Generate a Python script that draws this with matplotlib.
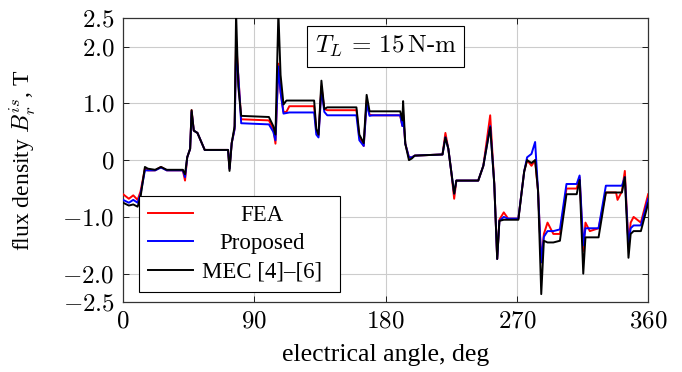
import numpy as np
import matplotlib
matplotlib.use('Agg')
import matplotlib.pyplot as plt
from matplotlib.transforms import IdentityTransform

plt.rcParams['font.family'] = ['Liberation Serif', 'DejaVu Serif']
plt.rcParams['mathtext.fontset'] = 'cm'
plt.rcParams['axes.unicode_minus'] = False

# electrical angle (deg) and radial flux density (T)
angle = [0, 4, 7, 10, 12, 15, 17, 22, 26, 30, 41, 42.5, 44, 46, 47, 48.5, 51, 56,
         72, 73, 74.5, 76.5, 77.5, 79, 81, 100, 103, 104.5, 106.5, 108, 110, 112, 114,
         131, 132.5, 134, 136, 138, 140, 160, 162, 165, 167, 169, 171, 190, 191.5,
         192, 193.5, 196, 198, 200, 219, 221, 223, 225, 227, 228.5, 243.5, 247, 251.7,
         254.5, 256.5, 258, 261, 264, 271, 275, 277, 280, 282.5, 284.5, 286.7, 288.5,
         291, 295, 299.5, 304, 311, 313, 315.5, 317, 320, 326, 331, 338, 339, 342, 344,
         346.5, 348, 350, 355, 360]

fea = [-0.60, -0.68, -0.62, -0.70, -0.55, -0.15, -0.18, -0.18, -0.12, -0.18, -0.18,
       -0.36, 0.05, 0.20, 0.88, 0.52, 0.48, 0.18, 0.18, -0.15, 0.30, 0.55, 2.10, 1.50,
       0.72, 0.70, 0.55, 0.29, 1.70, 1.20, 0.85, 0.85, 0.95, 0.95, 0.50, 0.43, 1.30,
       0.90, 0.88, 0.88, 0.40, 0.25, 1.05, 0.80, 0.79, 0.79, 0.60, 0.80, 0.29, 0.05,
       0.05, 0.08, 0.10, 0.48, 0.20, -0.20, -0.68, -0.36, -0.36, -0.10, 0.79, -0.42,
       -1.74, -1.05, -0.92, -1.03, -1.03, -0.20, 0.00, -0.10, 0.00, -0.54, -1.80,
       -1.30, -1.10, -1.30, -1.30, -0.50, -0.50, -0.30, -1.60, -1.10, -1.25, -1.20,
       -0.57, -0.57, -0.70, -0.55, -0.19, -1.50, -1.10, -1.00, -1.10, -0.60]

proposed = [-0.70, -0.75, -0.70, -0.75, -0.60, -0.18, -0.18, -0.18, -0.13, -0.18, -0.18,
            -0.30, 0.05, 0.20, 0.85, 0.52, 0.48, 0.18, 0.18, -0.15, 0.30, 0.55, 1.90, 1.50,
            0.65, 0.63, 0.50, 0.35, 1.65, 1.20, 0.82, 0.83, 0.84, 0.84, 0.45, 0.40, 1.25,
            0.85, 0.79, 0.79, 0.35, 0.25, 1.00, 0.78, 0.79, 0.79, 0.60, 0.80, 0.29, 0.05,
            0.05, 0.08, 0.10, 0.40, 0.20, -0.20, -0.59, -0.36, -0.36, -0.10, 0.60, -0.42,
            -1.74, -1.07, -1.00, -1.03, -1.03, -0.20, 0.05, 0.11, 0.32, -0.54, -1.80,
            -1.35, -1.25, -1.25, -1.22, -0.42, -0.42, -0.27, -1.50, -1.20, -1.20, -1.20,
            -0.45, -0.45, -0.45, -0.45, -0.30, -1.50, -1.20, -1.15, -1.15, -0.68]

mec = [-0.75, -0.80, -0.78, -0.82, -0.65, -0.12, -0.15, -0.17, -0.12, -0.17, -0.17,
       -0.25, 0.05, 0.20, 0.88, 0.52, 0.48, 0.18, 0.18, -0.19, 0.30, 0.60, 2.60, 1.30,
       0.78, 0.76, 0.60, 0.45, 2.60, 1.50, 0.98, 1.05, 1.05, 1.05, 0.55, 0.45, 1.40,
       0.90, 0.93, 0.93, 0.45, 0.30, 1.15, 0.86, 0.86, 0.86, 0.70, 1.04, 0.29, 0.00,
       0.03, 0.08, 0.10, 0.40, 0.20, -0.20, -0.59, -0.36, -0.36, -0.10, 0.58, -0.42,
       -1.74, -1.07, -1.05, -1.05, -1.05, -0.20, 0.00, -0.05, 0.00, -0.54, -2.36,
       -1.42, -1.45, -1.45, -1.42, -0.60, -0.60, -0.35, -2.00, -1.36, -1.36, -1.36,
       -0.57, -0.57, -0.57, -0.57, -0.30, -1.72, -1.30, -1.25, -1.25, -0.76]

labels = ['FEA', 'Proposed', 'MEC [4]–[6]']
colors = ['red', 'blue', 'black']

xticks = [0, 90, 180, 270, 360]
yticks = [-2.5, -2.0, -1.0, 0, 1.0, 2.0, 2.5]
ytick_labels = ['$-2.5$', '$-2.0$', '$-1.0$', '$0$', '$1.0$', '$2.0$', '$2.5$']

fig = plt.figure(figsize=(6.82, 3.72), dpi=100)
ax = fig.add_axes([0.1804, 0.188, 0.770, 0.763])

handles = []
for i, ys in enumerate([fea, proposed, mec]):
    h, = ax.plot(angle, ys, color=colors[i], lw=1.4, zorder=3 + i)
    handles.append(h)

ax.set_xlim(0, 360)
ax.set_ylim(-2.5, 2.5)
ax.set_xticks(xticks)
ax.set_xticklabels(['$%d$' % t for t in xticks], fontsize=18)
ax.set_yticks(yticks)
ax.set_yticklabels(ytick_labels, fontsize=18)
ax.tick_params(axis='x', direction='in', top=True, length=4, width=0.6, pad=6)
ax.tick_params(axis='y', direction='in', right=True, length=4, width=0.6, pad=6)

# grid only at inner tick positions
for gx in [90, 180, 270]:
    ax.axvline(gx, color='#cccccc', lw=0.8, zorder=1)
for gy in [-2.0, -1.0, 0, 1.0, 2.0]:
    ax.axhline(gy, color='#cccccc', lw=0.8, zorder=1)

for s in ax.spines.values():
    s.set_linewidth(0.9)
    s.set_color('#333333')

ax.set_xlabel('electrical angle, deg', fontsize=18.5, labelpad=8)
ax.set_ylabel(r'flux density $B_r^{is}$, T', fontsize=17)
ax.yaxis.set_label_coords(-0.162, 0.5)

ax.text(180, 2.0, r'$T_L\,=\,15\,\mathrm{N}$-m', fontsize=18, ha='center', va='center',
        family='cmr10',
        bbox=dict(boxstyle='square,pad=0.3', fc='white', ec='black', lw=0.8), zorder=8)

# legend: reserve space with the widest label, then put centred labels on top
leg = ax.legend(handles, [labels[2] + '  '] * 3, loc='lower left',
                bbox_to_anchor=(0.03, 0.035),
                fontsize=16.5, frameon=True, fancybox=False, edgecolor='black',
                framealpha=1, handlelength=1.95, borderpad=0.4, labelspacing=0.33,
                handletextpad=0.3, borderaxespad=0)
leg.get_frame().set_linewidth(0.8)
leg.set_zorder(9)
for t in leg.get_texts():
    t.set_alpha(0)

fig.canvas.draw()
for t, lab in zip(leg.get_texts(), labels):
    bb = t.get_window_extent()
    x0, y0 = t.get_transform().transform(t.get_position())
    fig.text((bb.x0 + bb.x1) / 2 - 3, y0, lab, fontsize=16.5, ha='center', va='baseline',
             transform=IdentityTransform(), zorder=10)

fig.savefig('out.png', dpi=100)
